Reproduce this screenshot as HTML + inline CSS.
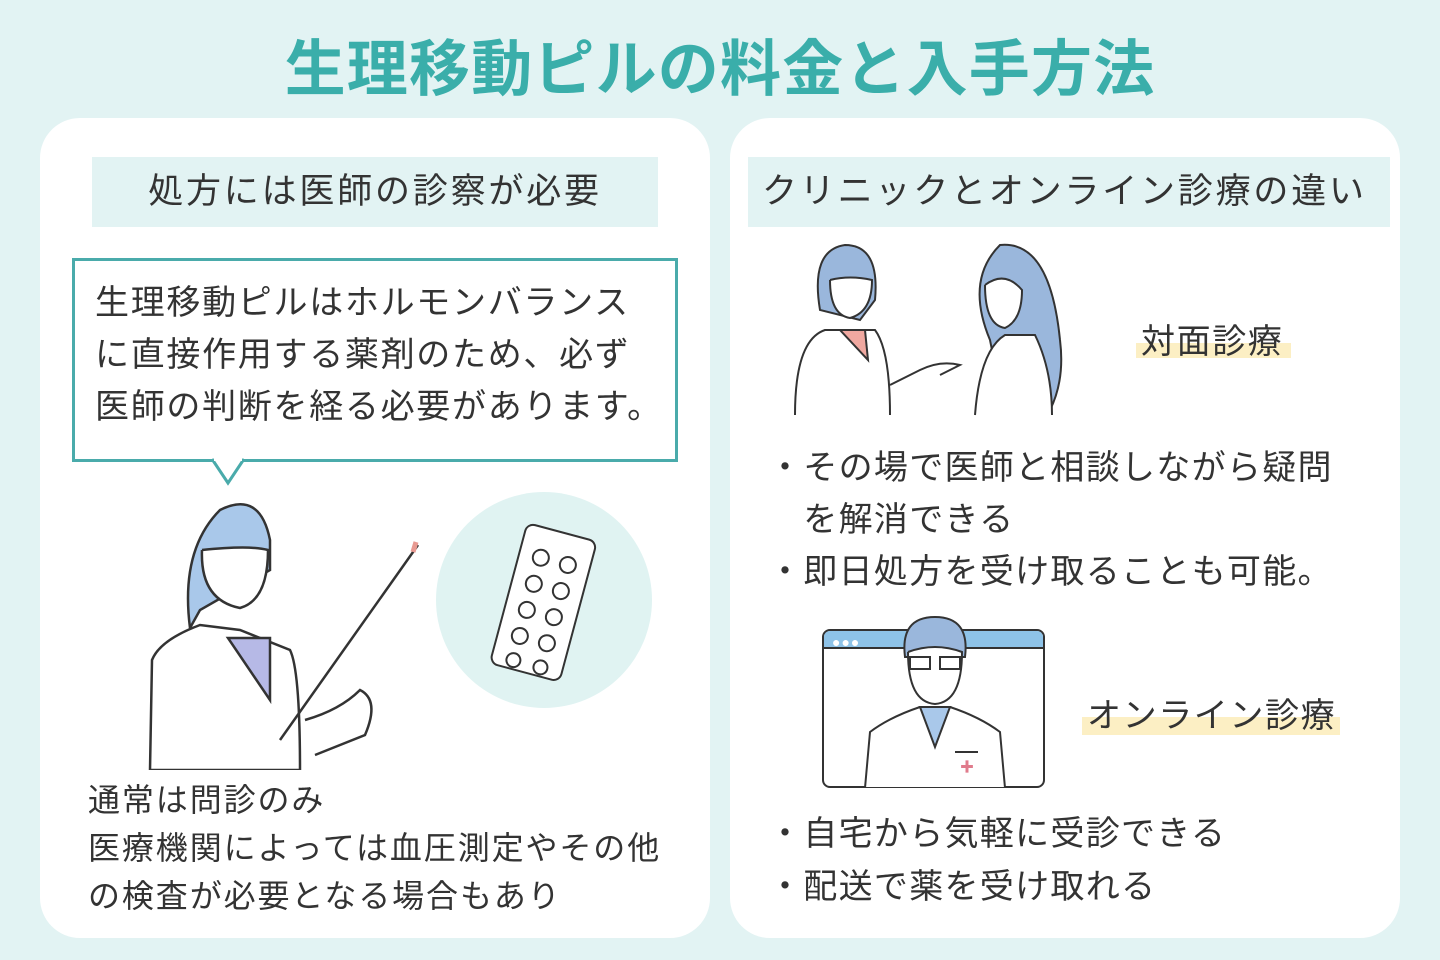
<!DOCTYPE html>
<html><head><meta charset="utf-8"><style>
*{margin:0;padding:0;box-sizing:border-box}
body{width:1440px;height:960px;background:#e2f3f3;position:relative;overflow:hidden;font-family:"Liberation Sans","Noto Sans CJK JP",sans-serif;color:#333}
.a{position:absolute;white-space:nowrap}
.card{position:absolute;background:#fff;border-radius:40px}
.hd{position:absolute;background:#e2f3f3;height:70px;font-size:35px;letter-spacing:2.8px;line-height:70px}
.t{font-size:34px;letter-spacing:1.6px}
.hl{position:absolute;background:#fcefc4}
</style></head><body>
<div class="a" style="left:0;width:1440px;text-align:center;top:19px;font-size:61px;font-weight:bold;color:#3aaeaa;letter-spacing:1.2px">生理移動ピルの料金と入手方法</div>
<div class="card" style="left:40px;top:118px;width:670px;height:820px"></div>
<div class="card" style="left:730px;top:118px;width:670px;height:820px"></div>

<div class="hd" style="left:92px;top:157px;width:566px;text-align:center">処方には医師の診察が必要</div>
<div class="a" style="left:72px;top:258px;width:606px;height:204px;border:3px solid #4aabab;background:#fff"></div>
<svg class="a" style="left:210px;top:457px" width="40" height="30"><path d="M2 2 L18 26 L34 2" fill="#fff" stroke="#4aabab" stroke-width="3"/><rect x="4" y="0" width="28" height="4" fill="#fff"/></svg>
<div class="a" style="left:95px;top:277px;line-height:52px;font-size:34px;letter-spacing:1.7px">生理移動ピルはホルモンバランス<br>に直接作用する薬剤のため、必ず<br>医師の判断を経る必要があります。</div>

<svg class="a" style="left:140px;top:490px" width="520" height="280">
<circle cx="404" cy="110" r="108" fill="#e0f3f2"/>
<g transform="rotate(15 404 110)" stroke="#333" stroke-width="2" fill="#fff">
<rect x="368" y="40" width="72" height="145" rx="8"/>
<g fill="none"><circle cx="390" cy="70" r="8"/><circle cx="418" cy="70" r="8"/><circle cx="390" cy="97" r="8"/><circle cx="418" cy="97" r="8"/><circle cx="390" cy="124" r="8"/><circle cx="418" cy="124" r="8"/><circle cx="390" cy="151" r="8"/><circle cx="418" cy="151" r="8"/><circle cx="390" cy="176" r="7"/><circle cx="418" cy="176" r="7"/></g>
</g>
<g stroke="#333" stroke-width="2.5" fill="none">
<path d="M50 138 Q40 60 80 20 Q120 0 130 50 L130 80 L60 120 Z" fill="#a9c8ea"/>
<path d="M62 60 Q60 110 100 118 Q128 110 128 60 Q110 55 62 60" fill="#fff"/>
<path d="M10 280 L12 170 Q20 150 60 135 L100 140 L150 160 Q160 180 160 280 Z" fill="#fff"/>
<path d="M88 148 L130 148 L130 210 Z" fill="#b6b9e6"/>
<line x1="140" y1="250" x2="278" y2="55"/>
<path d="M165 230 Q200 220 220 200 Q240 210 225 245 L175 265"/>
</g>
<line x1="276" y1="52" x2="273" y2="62" stroke="#e89a92" stroke-width="5"/>
</svg>

<div class="a" style="left:88px;top:776px;font-size:32px;letter-spacing:1.9px;line-height:48px">通常は問診のみ<br>医療機関によっては血圧測定やその他<br>の検査が必要となる場合もあり</div>

<div class="hd" style="left:748px;top:157px;width:642px;padding-left:14px">クリニックとオンライン診療の違い</div>

<svg class="a" style="left:790px;top:240px" width="280" height="180">
<g stroke="#333" stroke-width="2" fill="none">
<path d="M30 70 Q20 10 55 5 Q90 5 85 60 L70 80 Z" fill="#9ab7dc"/>
<path d="M40 40 Q40 75 60 78 Q82 72 82 40 Q60 35 40 40" fill="#fff"/>
<path d="M5 175 Q5 100 35 90 L85 90 Q100 110 100 175" fill="#fff"/>
<path d="M50 90 L75 90 L78 120 Z" fill="#f0a8a0"/>
<path d="M100 145 L130 130 Q150 120 170 125 L150 135"/>
<path d="M200 100 Q175 40 210 5 Q260 0 270 100 Q275 140 260 170 L210 150 Z" fill="#9ab7dc"/>
<path d="M195 45 Q195 85 215 88 Q232 80 232 50 Q215 30 195 45" fill="#fff"/>
<path d="M185 175 Q190 110 215 95 L245 95 Q262 130 262 175" fill="#fff"/>
</g>
</svg>
<div class="hl" style="left:1136px;top:343px;width:155px;height:15px"></div>
<div class="a t" style="left:1141px;top:314px">対面診療</div>

<div class="a" style="left:768px;top:442px;font-size:34px;letter-spacing:1.3px;line-height:52px">・その場で医師と相談しながら疑問<br>　を解消できる<br>・即日処方を受け取ることも可能。</div>

<div class="a" style="left:822px;top:629px;width:223px;height:159px;border:2px solid #333;border-radius:8px;background:#fff;overflow:hidden">
<div style="height:18px;background:#8ec3e8;border-bottom:2px solid #333"></div>
</div>
<div class="a" style="left:832px;top:634px;color:#fff;font-size:14px;letter-spacing:1px">●●●</div>
<svg class="a" style="left:860px;top:612px" width="150" height="176">
<g stroke="#333" stroke-width="2">
<path d="M45 45 Q40 5 75 5 Q110 5 105 45 Z" fill="#9ab7dc"/>
<path d="M48 40 Q48 90 75 92 Q102 90 102 40 Q75 30 48 40" fill="#fff"/>
<rect x="50" y="45" width="20" height="12" fill="none"/><rect x="80" y="45" width="20" height="12" fill="none"/>
<path d="M5 176 L10 120 Q30 105 60 95 L90 95 Q120 105 140 120 L145 176 Z" fill="#fff"/>
<path d="M60 95 L75 135 L90 95 Z" fill="#a9c8ea"/>
<line x1="95" y1="140" x2="118" y2="140"/>
</g>
<text x="100" y="160" font-size="14" fill="#e07b8c">✚</text>
</svg>
<div class="hl" style="left:1082px;top:717px;width:258px;height:18px"></div>
<div class="a t" style="left:1087px;top:688px">オンライン診療</div>

<div class="a" style="left:768px;top:808px;font-size:34px;letter-spacing:1.3px;line-height:53px">・自宅から気軽に受診できる<br>・配送で薬を受け取れる</div>
</body></html>
